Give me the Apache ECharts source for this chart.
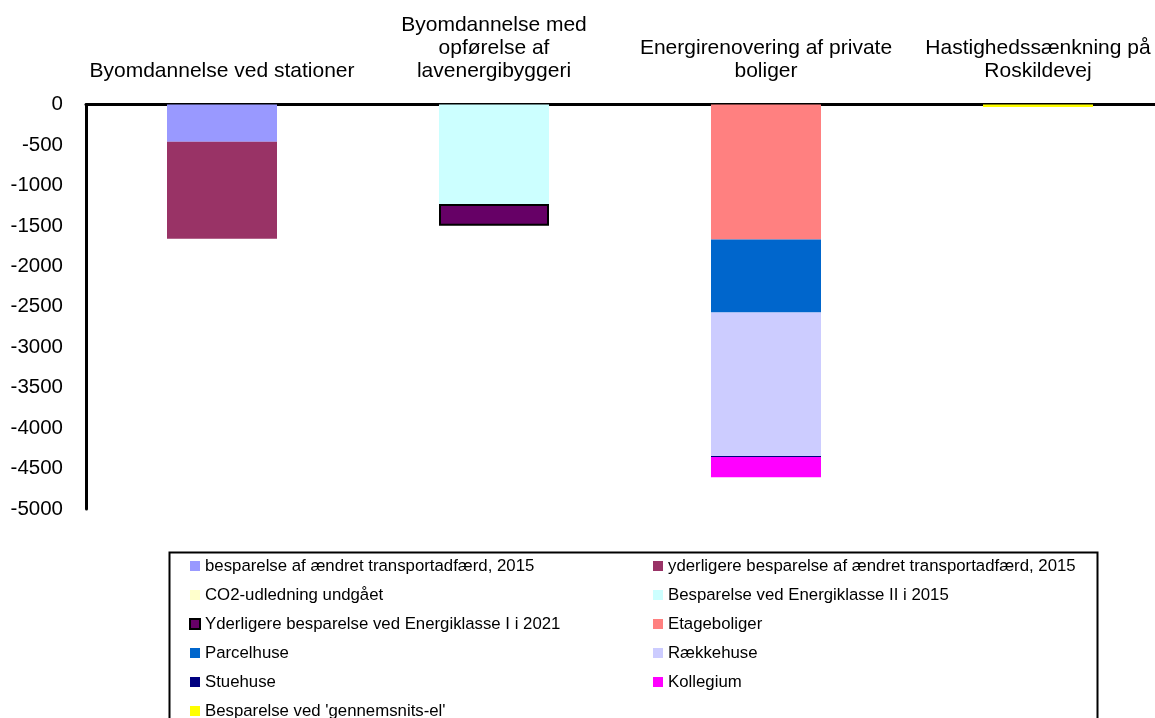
<!DOCTYPE html>
<html>
<head>
<meta charset="utf-8">
<script src="https://cdn.jsdelivr.net/npm/echarts@6/dist/echarts.min.js"></script>
<style>
  html, body { margin: 0; padding: 0; background: #ffffff; overflow: hidden; width: 1155px; height: 718px; }
  /* the plot area runs slightly past the right edge of the window */
  #chart { width: 1175px; height: 718px; }
</style>
</head>
<body>
<div id="chart"></div>
<script>
// Projects (categories along the top axis)
const categories = [
  'Byomdannelse ved stationer',
  'Byomdannelse med\nopførelse af\nlavenergibyggeri',
  'Energirenovering af private\nboliger',
  'Hastighedssænkning på\nRoskildevej'
];

// Value axis ticks
const yMin = -5000;
const yMax = 0;
const yStep = 500;

// CO2 savings per component (tons), one value per project
const transport2015      = [-460, 0, 0, 0];
const transportExtra2015 = [-1200, 0, 0, 0];
const co2Avoided         = [0, 0, 0, 0];
const energyClass2015    = [0, -1230, 0, 0];
const energyClass2021    = [0, -270, 0, 0];
const etageboliger       = [0, 0, -1670, 0];
const parcelhuse         = [0, 0, -900, 0];
const raekkehuse         = [0, 0, -1775, 0];
const stuehuse           = [0, 0, -12, 0];
const kollegium          = [0, 0, -250, 0];
const averageEl          = [0, 0, 0, -30];

const seriesNames = [
  'besparelse af ændret transportadfærd, 2015',
  'yderligere besparelse af ændret transportadfærd, 2015',
  'CO2-udledning undgået',
  'Besparelse ved Energiklasse II i 2015',
  'Yderligere besparelse ved Energiklasse I i 2021',
  'Etageboliger',
  'Parcelhuse',
  'Rækkehuse',
  'Stuehuse',
  'Kollegium',
  "Besparelse ved 'gennemsnits-el'"
];
const seriesValues = [
  transport2015, transportExtra2015, co2Avoided, energyClass2015, energyClass2021,
  etageboliger, parcelhuse, raekkehuse, stuehuse, kollegium, averageEl
];
const seriesColors = [
  '#9999FF', '#993366', '#FFFFCC', '#CCFFFF', '#660066',
  '#FF8080', '#0066CC', '#CCCCFF', '#000080', '#FF00FF', '#FFFF00'
];

const FONT = 'Arial, "Liberation Sans", sans-serif';

const series = seriesNames.map((name, i) => ({
  name: name,
  type: 'bar',
  stack: 'total',
  barWidth: 110,
  data: seriesValues[i].map(v => (v === 0 ? '-' : v)),
  itemStyle: i === 4
    ? { color: seriesColors[i], borderColor: '#000000', borderWidth: 2 }
    : { color: seriesColors[i] },
  emphasis: { disabled: true },
  animation: false
}));

const legendText = {
  fontFamily: FONT,
  fontSize: 16.8,
  color: '#000000',
  lineHeight: 18
};
const legendBase = {
  orient: 'vertical',
  top: 557,
  height: 260,
  padding: 0,
  itemGap: 11,
  itemWidth: 10,
  itemHeight: 10,
  icon: 'rect',
  selectedMode: false,
  textStyle: legendText
};

const chart = echarts.init(document.getElementById('chart'), null, { renderer: 'canvas' });
chart.setOption({
  backgroundColor: '#ffffff',
  animation: false,
  grid: { left: 86, top: 104.5, width: 1088, bottom: 209, containLabel: false },
  xAxis: {
    type: 'category',
    position: 'top',
    data: categories,
    axisLine: { show: true, lineStyle: { color: '#000000', width: 3 } },
    axisTick: { show: false },
    splitLine: { show: false },
    axisLabel: {
      interval: 0,
      margin: 22,
      fontFamily: FONT,
      fontSize: 21,
      lineHeight: 23,
      color: '#000000',
      align: 'center'
    }
  },
  yAxis: {
    type: 'value',
    min: yMin,
    max: yMax,
    interval: yStep,
    axisLine: { show: true, lineStyle: { color: '#000000', width: 3 } },
    axisTick: { show: false },
    splitLine: { show: false },
    axisLabel: {
      margin: 23,
      fontFamily: FONT,
      fontSize: 20.5,
      color: '#000000',
      formatter: v => String(v)
    }
  },
  legend: [
    Object.assign({}, legendBase, {
      left: 189,
      data: seriesNames.filter((_, i) => i % 2 === 0)
    }),
    Object.assign({}, legendBase, {
      left: 653,
      data: seriesNames.filter((_, i) => i % 2 === 1)
    })
  ],
  graphic: [{
    type: 'rect',
    left: 167,
    top: 550,
    shape: { width: 928, height: 200 },
    style: { fill: 'none', stroke: '#000000', lineWidth: 2 },
    silent: true
  }],
  series: series
});
</script>
</body>
</html>
